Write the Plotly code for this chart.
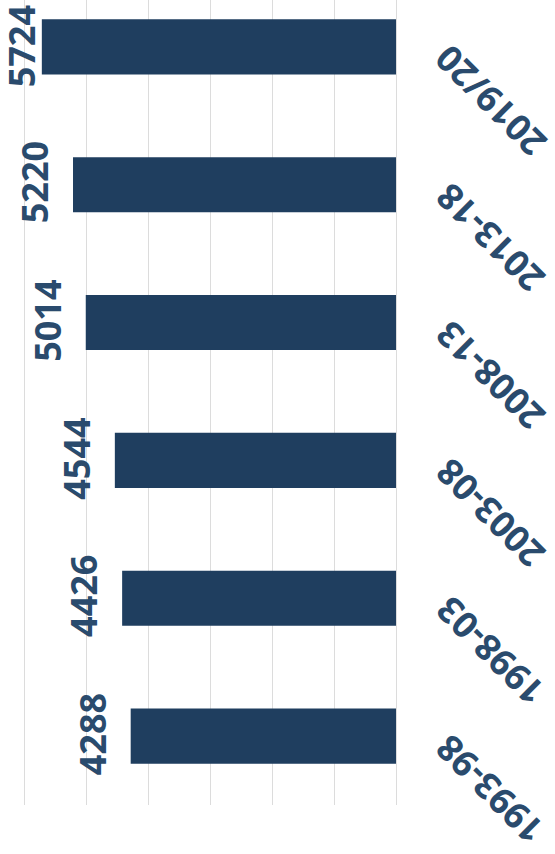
import plotly.graph_objects as go

# Five-year periods, oldest first
periods = ["1993-98", "1998-03", "2003-08", "2008-13", "2013-18", "2019/20"]
values = [4288, 4426, 4544, 5014, 5220, 5724]

BAR = "#1f3e5f"
TXT = "#2a4b6d"
GRID = "#dcdcdc"
FONT = dict(family="Open Sans", size=36, color=TXT, weight="bold")

W, H = 555, 854
MARGIN = dict(l=0, r=159, t=0, b=49)
XMAX = 6400
plot_w = W - MARGIN["l"] - MARGIN["r"]
px_per_unit = plot_w / XMAX
LABEL_GAP = 12      # px between bar end and the label box
LABEL_BOX = 49      # px taken by a rotated label across the value axis

fig = go.Figure(
    go.Bar(
        y=periods,
        x=values,
        orientation="h",
        width=0.4,
        marker=dict(color=BAR, line=dict(width=0)),
        hoverinfo="x+y",
    )
)

# value labels, rotated to read upwards, just beyond the end of each bar;
# a label that would run past the plot edge is held inside it
for p, v in zip(periods, values):
    fits = v * px_per_unit + LABEL_GAP + LABEL_BOX <= plot_w
    if fits:
        fig.add_annotation(
            x=v, y=p, xref="x", yref="y",
            text=str(v), showarrow=False, textangle=-90,
            xanchor="right", yanchor="middle", xshift=-LABEL_GAP, yshift=2,
            font=FONT,
        )
    else:
        fig.add_annotation(
            x=0, y=p, xref="paper", yref="y",
            text=str(v), showarrow=False, textangle=-90,
            xanchor="left", yanchor="middle", xshift=-5, yshift=0,
            font=FONT,
        )

# period labels, set diagonally on the right-hand side
for p in periods:
    fig.add_annotation(
        x=1, y=p, xref="paper", yref="y",
        text=p, showarrow=False, textangle=-135,
        xanchor="left", yanchor="top", xshift=26, yshift=15,
        font=FONT,
    )

fig.update_layout(
    width=W,
    height=H,
    margin=MARGIN,
    paper_bgcolor="white",
    plot_bgcolor="white",
    showlegend=False,
    xaxis=dict(
        range=[XMAX, 0],
        dtick=1000,
        showgrid=True,
        gridcolor=GRID,
        gridwidth=1,
        zeroline=True,
        zerolinecolor=GRID,
        zerolinewidth=1,
        showticklabels=False,
        showline=False,
        automargin=False,
    ),
    yaxis=dict(
        type="category",
        categoryorder="array",
        categoryarray=periods,
        range=[-0.5, 5.34],
        showgrid=False,
        zeroline=False,
        showline=False,
        showticklabels=False,
        automargin=False,
    ),
)

fig.write_html("out.html")
